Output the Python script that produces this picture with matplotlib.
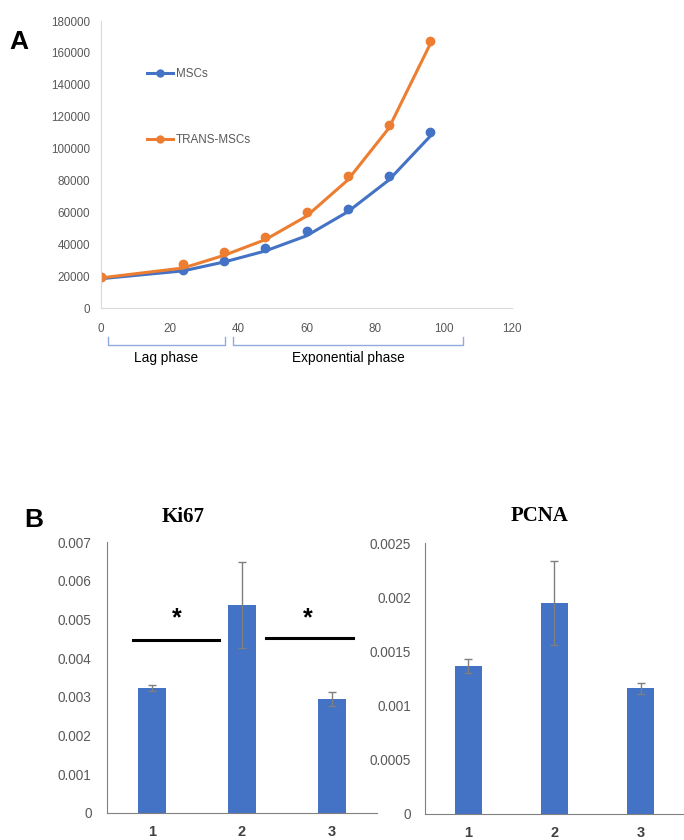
import matplotlib.pyplot as plt
import matplotlib.transforms as mtransforms
from matplotlib.lines import Line2D

plt.rcParams['font.family'] = ['Liberation Sans', 'DejaVu Sans']

# --- Panel A: cell growth curve ---
hours = [0, 24, 36, 48, 60, 72, 84, 96]
msc_points = [19500, 24000, 29500, 37700, 48000, 62400, 83000, 110200]
msc_trend = [18400, 23300, 28900, 35800, 45300, 60300, 80200, 107500]
trans_points = [19500, 27400, 35200, 44400, 60300, 83000, 114600, 167600]
trans_trend = [18900, 25100, 33100, 42900, 57600, 80200, 112700, 165100]

# --- Panel B: gene expression ---
groups = ['1', '2', '3']
ki67_mean = [0.00322, 0.00538, 0.00294]
ki67_err = [0.00008, 0.00112, 0.00019]
pcna_mean = [0.00137, 0.00195, 0.00116]
pcna_err = [0.000065, 0.00039, 0.00005]

BLUE = '#4472C4'
ORANGE = '#ED7D31'
GREY = '#595959'

fig = plt.figure(figsize=(6.84, 8.4), dpi=100)

axA = fig.add_axes([0.1477, 0.6333, 0.6009, 0.3417])
axA.plot(hours, msc_trend, color=BLUE, lw=2.2)
axA.plot(hours, msc_points, 'o', color=BLUE, ms=6)
axA.plot(hours, trans_trend, color=ORANGE, lw=2.2)
axA.plot(hours, trans_points, 'o', color=ORANGE, ms=6)
axA.set_xlim(0, 120)
axA.set_ylim(0, 180000)
axA.set_xticks(range(0, 121, 20))
axA.set_yticks(range(0, 180001, 20000))
axA.tick_params(length=0, labelsize=8.4, labelcolor=GREY)
axA.tick_params(axis='x', pad=11)
axA.tick_params(axis='y', pad=8)
for s in ['top', 'right']:
    axA.spines[s].set_visible(False)
axA.spines['left'].set_color('#D9D9D9')
axA.spines['bottom'].set_color('#D9D9D9')

handles = [Line2D([], [], color=BLUE, lw=2.2, marker='o', ms=5),
           Line2D([], [], color=ORANGE, lw=2.2, marker='o', ms=5)]
leg = fig.legend(handles, ['MSCs', 'TRANS-MSCs'], loc='upper left',
                 bbox_to_anchor=(0.2149, 0.9185), frameon=False,
                 fontsize=8.4, labelspacing=4.6, handlelength=2.2,
                 handletextpad=0.25, borderpad=0, borderaxespad=0)
for t in leg.get_texts():
    t.set_color(GREY)

# phase brackets under the x axis
tr = mtransforms.blended_transform_factory(axA.transData, axA.transAxes)
for x0, x1, label in [(2, 36.2, 'Lag phase'), (38.5, 105.7, 'Exponential phase')]:
    axA.plot([x0, x0, x1, x1], [-0.101, -0.129, -0.129, -0.101], color='#8FAADC',
             lw=1, transform=tr, clip_on=False)
    axA.text((x0 + x1) / 2, -0.174, label, transform=tr, ha='center', va='center',
             fontsize=9.8, color='black')

fig.text(0.028, 0.95, 'A', fontsize=19, fontweight='bold', ha='center', va='center')


def bar_panel(rect, means, errs, ymax, step, fmt, pad):
    ax = fig.add_axes(rect)
    x = range(1, len(groups) + 1)
    ax.bar(x, means, width=0.31, color=BLUE, yerr=errs, capsize=3,
           error_kw=dict(ecolor='#7F7F7F', elinewidth=1, capthick=1))
    ax.set_xlim(0.5, 3.5)
    ax.set_ylim(0, ymax)
    ax.set_xticks(list(x))
    ax.set_xticklabels(groups, fontweight='bold', color='#404040', fontsize=10.5)
    n = int(round(ymax / step))
    ax.set_yticks([i * step for i in range(n + 1)])
    ax.set_yticklabels(['0'] + [fmt % (i * step) for i in range(1, n + 1)])
    ax.tick_params(length=0)
    ax.tick_params(axis='y', labelsize=9.8, labelcolor=GREY, pad=pad)
    ax.tick_params(axis='x', pad=9)
    for s in ['top', 'right']:
        ax.spines[s].set_visible(False)
    ax.spines['left'].set_color('#808080')
    ax.spines['bottom'].set_color('#808080')
    return ax


axK = bar_panel([0.1564, 0.0325, 0.3947, 0.3219], ki67_mean, ki67_err,
                0.007, 0.001, '%.3f', 11)
axK.plot([0.787, 1.749], [0.00448, 0.00448], color='black', lw=2.2, clip_on=False)
axK.plot([2.268, 3.23], [0.00451, 0.00451], color='black', lw=2.2, clip_on=False)
axK.text(1.27, 0.00502, '*', fontsize=18, fontweight='bold', ha='center', va='center')
axK.text(2.73, 0.00504, '*', fontsize=18, fontweight='bold', ha='center', va='center')

axP = bar_panel([0.6213, 0.031, 0.3787, 0.3222], pcna_mean, pcna_err,
                0.0025, 0.0005, '%g', 10)

serif = ['Liberation Serif', 'DejaVu Serif']
fig.text(0.2675, 0.3845, 'Ki67', family=serif, fontsize=15, fontweight='bold',
         ha='center', va='center')
fig.text(0.7895, 0.3857, 'PCNA', family=serif, fontsize=15, fontweight='bold',
         ha='center', va='center')
fig.text(0.050, 0.381, 'B', fontsize=19, fontweight='bold', ha='center', va='center')

fig.savefig('out.png', dpi=100)
plt.close(fig)
